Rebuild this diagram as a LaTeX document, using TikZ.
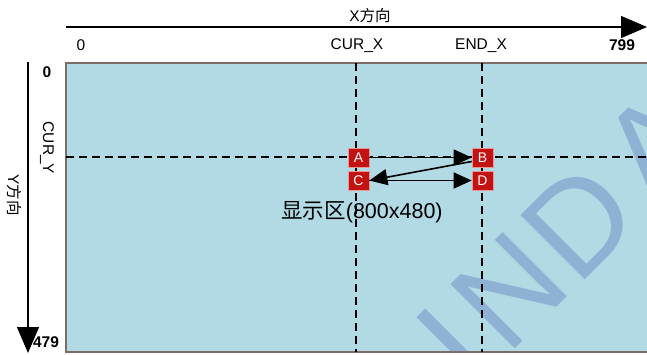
\documentclass[tikz,border=0pt]{standalone}
\usepackage{fontspec}
\setmainfont{Liberation Sans}
\newfontfamily\cjk{Noto Sans CJK SC}
\usetikzlibrary{arrows.meta}
\definecolor{bg}{RGB}{177,218,228}
\definecolor{frame}{RGB}{125,108,104}
\definecolor{wm}{RGB}{143,177,211}
\definecolor{boxred}{RGB}{194,18,18}
\definecolor{boxedge}{RGB}{232,150,150}
\begin{document}
\begin{tikzpicture}[x=1pt,y=-1pt,
  lab/.style={inner sep=0pt, font=\fontsize{15.5}{18}\selectfont},
  blab/.style={inner sep=0pt, font=\fontsize{15.5}{18}\selectfont\bfseries},
  gridline/.style={dash pattern=on 8pt off 5pt, line width=1.4pt},
  axis/.style={line width=1.2pt, -{Triangle[length=26pt,width=22pt]}},
  pt/.style={draw=boxedge, fill=boxred, line width=0.6pt, minimum width=21pt, minimum height=19pt, inner sep=0pt, text=white, font=\fontsize{14}{16}\selectfont},
  mv/.style={line width=1.6pt, -{Triangle[length=18pt,width=16pt]}},
  wmletter/.style={rotate=45, anchor=base west, inner sep=0pt, text=wm, font=\fontsize{132}{140}\selectfont}]
\useasboundingbox (0,0) rectangle (647,354);
% screen area
\fill[bg] (66,63) rectangle (655,352);
\begin{scope}
  \clip (66,63) rectangle (655,352);
  \node[wmletter] (wI) at (472,391) {I};
  \node[wmletter] (wN) at (507,357) {N};
  \node[wmletter] (wD) at (577,288) {D};
  \node[wmletter] (wA) at (656,209) {A};
\end{scope}
\draw[frame, line width=1.5pt] (655,63) -- (66,63) -- (66,352) -- (655,352);
% axes
\coordinate (xs) at (66,27);
\coordinate (xe) at (647,27);
\draw[axis] (xs) -- (xe);
\coordinate (ys) at (28,62);
\coordinate (ye) at (28,353);
\draw[axis] (ys) -- (ye);
% grid lines
\coordinate (v1t) at (356,63); \coordinate (v1b) at (356,352);
\coordinate (v2t) at (482,63); \coordinate (v2b) at (482,352);
\coordinate (hl) at (66,157); \coordinate (hr) at (655,157);
\draw[gridline] (v1t) -- (v1b);
\draw[gridline] (v2t) -- (v2b);
\draw[gridline] (hl) -- (hr);
% labels
\node[lab] (xdir) at (370,16) {X{\cjk 方向}};
\node[lab] (x0) at (81,45) {0};
\node[lab] (curx) at (357,46) {CUR\_X};
\node[lab] (endx) at (481,46) {END\_X};
\node[blab] (x799) at (622,45) {799};
\node[blab] (y0) at (47,72) {0};
\node[lab, rotate=-90] (cury) at (47,148) {CUR\_Y};
\node[lab, rotate=-90] (ydir) at (14,195) {Y{\cjk 方向}};
\node[blab] (y479) at (46,342) {479};
\node[inner sep=0pt, font=\fontsize{21.5}{25}\selectfont] (area) at (362,212) {{\cjk 显示区}(800x480)};
% points
\node[pt] (A) at (358.5,157.5) {A};
\node[pt] (B) at (482.5,157.5) {B};
\node[pt] (C) at (358.5,180.5) {C};
\node[pt] (D) at (482.5,180.5) {D};
\draw[mv] (A.east) -- (B.west);
\draw[mv] ([yshift=-4pt]B.west) -- (C.east);
\draw[mv] (C.east) -- (D.west);
\end{tikzpicture}
\end{document}
